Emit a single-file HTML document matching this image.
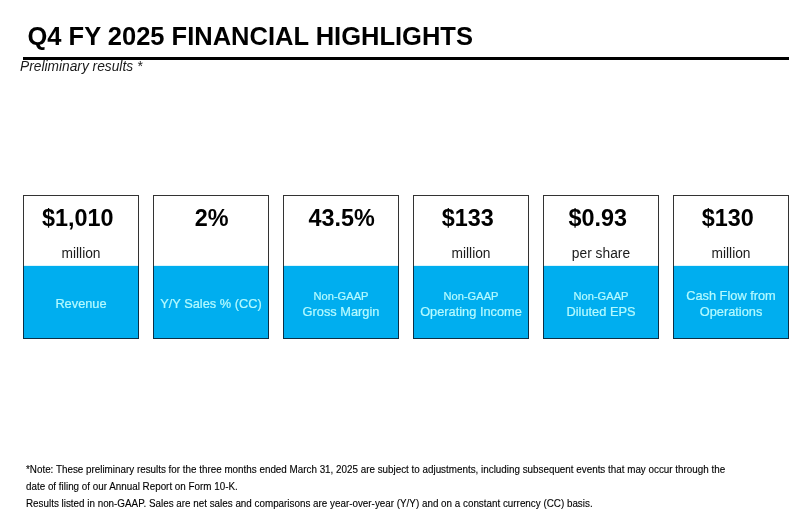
<!DOCTYPE html>
<html>
<head>
<meta charset="utf-8">
<style>
html,body{margin:0;padding:0;background:#fff;}
body{width:800px;height:524px;position:relative;overflow:hidden;font-family:"Liberation Sans",sans-serif;color:#000;}
#wrap{position:absolute;left:0;top:0;width:800px;height:524px;will-change:transform;}
.t{position:absolute;white-space:nowrap;}
#title{left:27.5px;top:21px;font-size:25.5px;font-weight:bold;line-height:30px;}
#rule{position:absolute;left:23px;top:57px;width:766px;height:3px;background:#000;}
#sub{left:20px;top:60px;font-size:13.75px;color:#1a1a1a;font-style:italic;line-height:14px;}
.card{position:absolute;top:195px;width:114px;height:142px;border:1px solid #333;background:#fff;}
.card .blue{position:absolute;left:-1px;right:-1px;top:70px;bottom:-1px;background:#00AEEF;border:1px solid #0c2f44;border-top:none;}
.card::before{content:"";position:absolute;left:0;right:0;top:69px;height:1px;background:#dcf5fc;}
.card .val{position:absolute;left:0;right:0;top:10px;text-align:center;font-size:23.4px;transform:scaleY(1.06);font-weight:bold;line-height:24px;}
.card .val.d{padding-right:6.5px;}
.card .val.p{padding-left:1.5px;}
.card .unit{position:absolute;left:0;right:0;top:51.2px;text-align:center;font-size:13.8px;line-height:14px;color:#1a1a1a;transform:scaleY(1.04);}
.card .lab{position:absolute;left:0;right:0;text-align:center;color:#b4faff;-webkit-text-stroke:0.2px #b4faff;font-size:12.8px;line-height:16px;}
.card .lab .s{font-size:11.1px;}
#fn{position:absolute;white-space:nowrap;left:26px;top:461.5px;-webkit-text-stroke:0.12px #000;font-size:9.86px;line-height:15.96px;color:#000;transform:scaleY(1.04);transform-origin:0 0;}
</style>
</head>
<body><div id="wrap">
<div class="t" id="title">Q4 FY 2025 FINANCIAL HIGHLIGHTS</div>
<div id="rule"></div>
<div class="t" id="sub">Preliminary results *</div>

<div class="card" style="left:23px"><div class="val d">$1,010</div><div class="unit">million</div><div class="blue"><div class="lab" style="top:29.5px">Revenue</div></div></div>
<div class="card" style="left:153px"><div class="val p">2%</div><div class="blue"><div class="lab" style="top:29.5px">Y/Y Sales % (CC)</div></div></div>
<div class="card" style="left:283px"><div class="val p">43.5%</div><div class="blue"><div class="lab" style="top:21.6px"><span class="s">Non-GAAP</span><br>Gross Margin</div></div></div>
<div class="card" style="left:413px"><div class="val d">$133</div><div class="unit">million</div><div class="blue"><div class="lab" style="top:21.6px"><span class="s">Non-GAAP</span><br>Operating Income</div></div></div>
<div class="card" style="left:543px"><div class="val d">$0.93</div><div class="unit">per share</div><div class="blue"><div class="lab" style="top:21.6px"><span class="s">Non-GAAP</span><br>Diluted EPS</div></div></div>
<div class="card" style="left:673px"><div class="val d">$130</div><div class="unit">million</div><div class="blue"><div class="lab" style="top:21.6px">Cash Flow from<br>Operations</div></div></div>

<div id="fn">*Note: These preliminary results for the three months ended March 31, 2025 are subject to adjustments, including subsequent events that may occur through the<br>date of filing of our Annual Report on Form 10-K.<br>Results listed in non-GAAP. Sales are net sales and comparisons are year-over-year (Y/Y) and on a constant currency (CC) basis.</div>
</div></body>
</html>
